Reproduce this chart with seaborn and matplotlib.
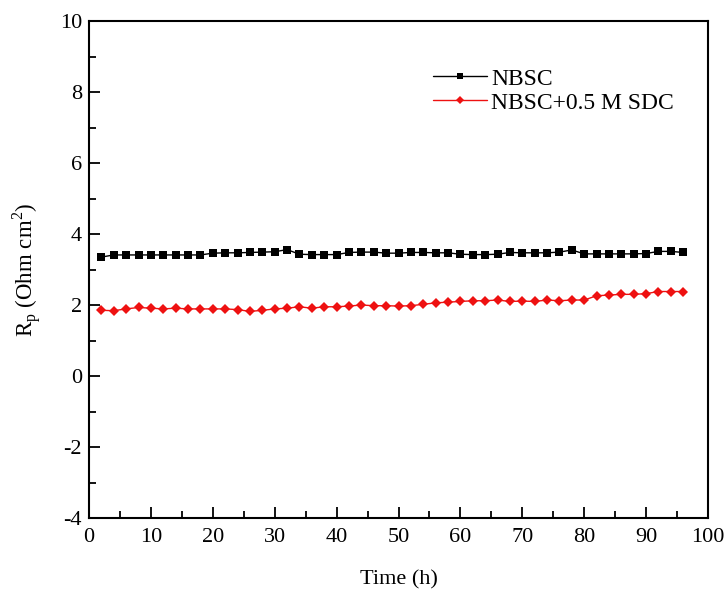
import numpy as np
import pandas as pd
import matplotlib
matplotlib.use("Agg")
import matplotlib.pyplot as plt
import seaborn as sns
from matplotlib.ticker import MultipleLocator

time_h = list(range(2, 98, 2))
nbsc = [3.35, 3.41, 3.41, 3.41, 3.41, 3.41, 3.41, 3.41, 3.41, 3.46,
        3.47, 3.47, 3.48, 3.49, 3.50, 3.56, 3.43, 3.42, 3.42, 3.42,
        3.48, 3.49, 3.49, 3.46, 3.46, 3.48, 3.48, 3.47, 3.47, 3.43,
        3.42, 3.42, 3.43, 3.48, 3.47, 3.47, 3.47, 3.49, 3.55, 3.44,
        3.44, 3.44, 3.44, 3.44, 3.45, 3.51, 3.51, 3.48]
nbsc_sdc = [1.85, 1.84, 1.89, 1.93, 1.91, 1.89, 1.91, 1.89, 1.89, 1.89,
            1.89, 1.87, 1.82, 1.85, 1.89, 1.91, 1.95, 1.91, 1.95, 1.95,
            1.97, 2.00, 1.98, 1.98, 1.97, 1.98, 2.02, 2.06, 2.08, 2.10,
            2.12, 2.12, 2.14, 2.10, 2.11, 2.10, 2.14, 2.12, 2.14, 2.14,
            2.26, 2.28, 2.30, 2.30, 2.32, 2.38, 2.38, 2.38]
labels = ["NBSC", "NBSC+0.5 M SDC"]

sns.set_theme(style="white")
plt.rcParams['font.family'] = ['Liberation Serif', 'DejaVu Serif']
plt.rcParams['mathtext.fontset'] = 'custom'
plt.rcParams['mathtext.rm'] = 'Liberation Serif'
plt.rcParams['axes.unicode_minus'] = False
plt.rcParams['text.color'] = 'black'
plt.rcParams['axes.labelcolor'] = 'black'

fig = plt.figure(figsize=(7.28, 5.91), dpi=100)
ax = fig.add_axes([89/728, 1 - 518/591, (708 - 89)/728, (518 - 21)/591])

df1 = pd.DataFrame({"t": time_h, "v": nbsc})
df2 = pd.DataFrame({"t": time_h, "v": nbsc_sdc})
sns.lineplot(data=df1, x="t", y="v", ax=ax, color="black", lw=1.0,
             marker="s", markersize=5.2, markeredgewidth=0, label=labels[0])
sns.lineplot(data=df2, x="t", y="v", ax=ax, color="#ee1111", lw=1.0,
             marker="D", markersize=4.6, markeredgewidth=0, label=labels[1])

ax.set_xlim(0, 100)
ax.set_ylim(-4, 10)
ax.xaxis.set_major_locator(MultipleLocator(10))
ax.xaxis.set_minor_locator(MultipleLocator(5))
ax.yaxis.set_major_locator(MultipleLocator(2))
ax.yaxis.set_minor_locator(MultipleLocator(1))
ax.tick_params(which="both", direction="in", top=False, right=False,
               bottom=True, left=True, colors="black", labelsize=16)
ax.tick_params(which="major", length=8, width=1.3)
ax.tick_params(which="minor", length=5, width=1.3)
ax.tick_params(axis="x", which="major", pad=7)
ax.tick_params(axis="y", which="major", pad=5)
for s in ax.spines.values():
    s.set_color("black")
    s.set_linewidth(1.5)

ax.set_xlabel("Time (h)", fontsize=16)
ax.set_ylabel(r"R$_\mathregular{p}$ (Ohm cm$^\mathregular{2}$)", fontsize=16.5)
ax.xaxis.set_label_coords(0.5, -0.105)
ax.yaxis.set_label_coords(-0.074, 0.5)

leg = ax.legend(loc="upper left", bbox_to_anchor=(0.556, 0.905), frameon=False,
                fontsize=17, handlelength=2.3, handletextpad=0.15, labelspacing=0.1,
                borderpad=0, borderaxespad=0, markerscale=0.8)
fig.savefig("out.png", dpi=100, facecolor="white")
